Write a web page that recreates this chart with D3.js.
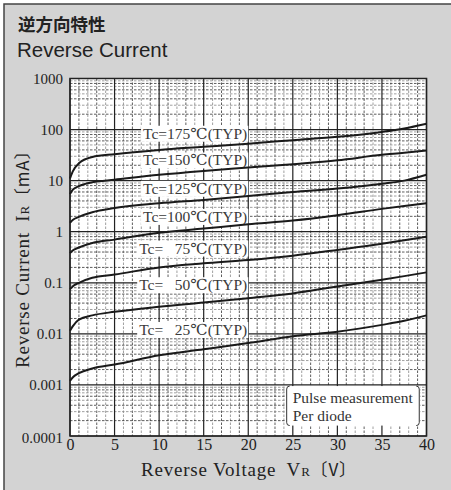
<!DOCTYPE html>
<html>
<head>
<meta charset="utf-8">
<script src="https://cdn.jsdelivr.net/npm/d3@7"></script>
<style>
  body { margin: 0; background: #fff; }
</style>
</head>
<body>
<div id="chart"></div>
<script>
// Reverse voltage sample points (V).
var voltages = [0, 0.3, 1, 2.5, 5, 10, 15, 20, 25, 30, 35, 37.5, 40];

// Reverse current (mA), one array per case temperature.
var ir175 = [11, 15, 22, 29, 33, 40, 46, 53, 62, 72, 90, 105, 130];
var ir150 = [5.5, 6.6, 7.8, 9.3, 10.4, 13, 15.5, 18, 21, 25, 32, 35, 39];
var ir125 = [1.5, 1.7, 1.95, 2.4, 2.9, 3.6, 4.2, 5, 6, 7, 8.7, 10, 13];
var ir100 = [0.38, 0.43, 0.49, 0.6, 0.7, 0.95, 1.15, 1.4, 1.65, 2.1, 2.8, 3.2, 3.6];
var ir75 = [0.075, 0.085, 0.1, 0.125, 0.145, 0.2, 0.24, 0.28, 0.34, 0.44, 0.58, 0.68, 0.8];
var ir50 = [0.0115, 0.014, 0.019, 0.023, 0.027, 0.034, 0.041, 0.05, 0.062, 0.085, 0.115, 0.135, 0.16];
var ir25 = [0.0012, 0.0014, 0.0017, 0.0021, 0.0025, 0.0038, 0.005, 0.0066, 0.009, 0.011, 0.015, 0.018, 0.023];

var series = [ir175, ir150, ir125, ir100, ir75, ir50, ir25];
var labels = ["Tc=175℃(TYP)", "Tc=150℃(TYP)", "Tc=125℃(TYP)", "Tc=100℃(TYP)",
              "Tc=\u2007 75℃(TYP)", "Tc=\u2007 50℃(TYP)", "Tc=\u2007 25℃(TYP)"];
// Where each label sits on the current axis (mA).
var labelAt = [85, 25.5, 7.1, 2.0, 0.48, 0.092, 0.0122];

var yTicks = [0.0001, 0.001, 0.01, 0.1, 1, 10, 100, 1000];
var yTickLabels = ["0.0001", "0.001", "0.01", "0.1", "1", "10", "100", "1000"];
var xTicks = [0, 5, 10, 15, 20, 25, 30, 35, 40];

var width = 451;
var height = 490;
var serif = "'Liberation Serif', 'DejaVu Serif', serif";

var svg = d3.select("#chart")
  .append("svg")
    .attr("width", width)
    .attr("height", height);

// Panel background and frame.
svg.append("rect")
  .attr("x", 4).attr("y", 4)
  .attr("width", width + 10).attr("height", height + 10)
  .style("fill", "#d3d3d3")
  .style("stroke", "#444")
  .style("stroke-width", 1.5);

svg.append("text")
  .attr("x", 18).attr("y", 31)
  .style("font-family", "'Noto Sans CJK JP', sans-serif")
  .style("font-weight", "bold")
  .style("font-size", "17.5px")
  .style("fill", "#222")
  .text("逆方向特性");

svg.append("text")
  .attr("x", 17).attr("y", 57)
  .style("font-family", "'Liberation Sans', Arial, sans-serif")
  .style("font-size", "20.5px")
  .style("fill", "#222")
  .text("Reverse Current");

var x = d3.scaleLinear().domain([0, 40]).range([70, 426.5]);
var y = d3.scaleLog().domain([0.0001, 1000]).range([436, 78.5]);

var plot = svg.append("g");

plot.append("rect")
  .attr("x", x(0)).attr("y", y(1000))
  .attr("width", x(40) - x(0))
  .attr("height", y(0.0001) - y(1000))
  .style("fill", "#fff");

// Minor grid: every volt, and 2..9 inside each decade.
var minorV = d3.range(1, 40).filter(function (v) { return v % 5 != 0; });
var minorI = [];
for (var d = -4; d < 3; d++) {
  for (var k = 2; k < 10; k++) {
    minorI.push(k * Math.pow(10, d));
  }
}

plot.selectAll("line.vminor")
  .data(minorV)
  .enter().append("line")
    .attr("class", "vminor")
    .attr("x1", function (d) { return x(d); })
    .attr("x2", function (d) { return x(d); })
    .attr("y1", y(1000)).attr("y2", y(0.0001))
    .style("stroke", function (d) { return d % 2 ? "#333" : "#888"; })
    .style("stroke-width", 0.8)
    .style("stroke-dasharray", "2.5,1.5");

plot.selectAll("line.hminor")
  .data(minorI)
  .enter().append("line")
    .attr("class", "hminor")
    .attr("x1", x(0)).attr("x2", x(40))
    .attr("y1", function (d) { return y(d); })
    .attr("y2", function (d) { return y(d); })
    .style("stroke", function (d, i) { return i % 2 ? "#888" : "#333"; })
    .style("stroke-width", 0.8)
    .style("stroke-dasharray", "2.5,1.5");

plot.selectAll("line.vmajor")
  .data(xTicks)
  .enter().append("line")
    .attr("class", "vmajor")
    .attr("x1", function (d) { return x(d); })
    .attr("x2", function (d) { return x(d); })
    .attr("y1", y(1000)).attr("y2", y(0.0001))
    .style("stroke", "#222")
    .style("stroke-width", 1.2);

plot.selectAll("line.hmajor")
  .data(yTicks)
  .enter().append("line")
    .attr("class", "hmajor")
    .attr("x1", x(0)).attr("x2", x(40))
    .attr("y1", function (d) { return y(d); })
    .attr("y2", function (d) { return y(d); })
    .style("stroke", "#222")
    .style("stroke-width", 1.2);

plot.append("rect")
  .attr("x", x(0)).attr("y", y(1000))
  .attr("width", x(40) - x(0))
  .attr("height", y(0.0001) - y(1000))
  .style("fill", "none")
  .style("stroke", "#222")
  .style("stroke-width", 1.5);

// Temperature labels with white boxes over the grid.
var labelG = plot.selectAll("g.lab")
  .data(labels)
  .enter().append("g")
    .attr("class", "lab");

labelG.append("text")
  .attr("x", x(20) - 1)
  .attr("y", function (d, i) { return y(labelAt[i]); })
  .attr("dy", "0.36em")
  .attr("text-anchor", "end")
  .style("font-family", serif)
  .style("font-size", "15.5px")
  .style("fill", "#3a3a3a")
  .text(function (d) { return d; });

labelG.each(function () {
  var g = d3.select(this);
  var bb = g.select("text").node().getBBox();
  g.insert("rect", "text")
    .attr("x", bb.x - 2).attr("y", bb.y + 1)
    .attr("width", bb.width + 3).attr("height", bb.height - 2)
    .style("fill", "#fff");
});

// Curves.
var line = d3.line()
  .x(function (d, i) { return x(voltages[i]); })
  .y(function (d) { return y(d); })
  .curve(d3.curveMonotoneX);

plot.selectAll("path.curve")
  .data(series)
  .enter().append("path")
    .attr("class", "curve")
    .attr("d", line)
    .style("fill", "none")
    .style("stroke", "#1a1a1a")
    .style("stroke-width", 2);

// Measurement note in brackets.
var nx0 = x(24.2), nx1 = x(39.3), ny0 = y(0.00095), ny1 = y(0.00016);
plot.append("rect")
  .attr("x", nx0).attr("y", ny0)
  .attr("width", nx1 - nx0).attr("height", ny1 - ny0)
  .style("fill", "#fff");
plot.append("path")
  .attr("d", "M" + (nx0 + 4) + "," + ny0 + " q-3,0 -3,3 v" + (ny1 - ny0 - 6) + " q0,3 3,3")
  .style("fill", "none").style("stroke", "#333").style("stroke-width", 1);
plot.append("path")
  .attr("d", "M" + (nx1 - 4) + "," + ny0 + " q3,0 3,3 v" + (ny1 - ny0 - 6) + " q0,3 -3,3")
  .style("fill", "none").style("stroke", "#333").style("stroke-width", 1);
plot.append("text")
  .attr("x", nx0 + 7).attr("y", ny0 + 17)
  .style("font-family", serif)
  .style("font-size", "15.5px")
  .style("fill", "#333")
  .text("Pulse measurement");
plot.append("text")
  .attr("x", nx0 + 7).attr("y", ny0 + 35)
  .style("font-family", serif)
  .style("font-size", "15.5px")
  .style("fill", "#333")
  .text("Per diode");

// Axes.
var yAxis = d3.axisLeft(y)
  .tickValues(yTicks)
  .tickSize(0)
  .tickPadding(7)
  .tickFormat(function (d, i) { return yTickLabels[i]; });

var gy = svg.append("g")
  .attr("transform", "translate(" + x(0) + ",0)")
  .call(yAxis);
gy.select(".domain").remove();
gy.selectAll("text")
  .style("font-family", serif)
  .style("font-size", "15px")
  .style("fill", "#222");
gy.selectAll(".tick")
  .filter(function (d) { return d == 0.0001; })
  .select("text").attr("dy", "0.45em");

var xAxis = d3.axisBottom(x)
  .tickValues(xTicks)
  .tickSize(0)
  .tickPadding(3);

var gx = svg.append("g")
  .attr("transform", "translate(0," + y(0.0001) + ")")
  .call(xAxis);
gx.select(".domain").remove();
gx.selectAll("text")
  .style("font-family", serif)
  .style("font-size", "16px")
  .style("fill", "#222");

// Axis titles.
var xt = svg.append("text")
  .attr("x", 141).attr("y", 476)
  .style("font-family", serif)
  .style("font-size", "19px")
  .style("letter-spacing", "0.8px")
  .style("fill", "#222");
xt.append("tspan").text("Reverse Voltage\u2002V");
xt.append("tspan").style("font-size", "13px").text("R");
xt.append("tspan").style("font-family", "'Noto Sans CJK JP', serif").style("font-size", "17px").text("〔V〕");

var yt = svg.append("text")
  .attr("transform", "translate(29,368) rotate(-90)")
  .style("font-family", serif)
  .style("font-size", "19px")
  .style("letter-spacing", "0.8px")
  .style("fill", "#222");
yt.append("tspan").text("Reverse Current\u2002I");
yt.append("tspan").style("font-size", "13px").text("R");
yt.append("tspan").style("font-family", "'Noto Sans CJK JP', serif").style("font-size", "17px").text("〔mA〕");
</script>
</body>
</html>
